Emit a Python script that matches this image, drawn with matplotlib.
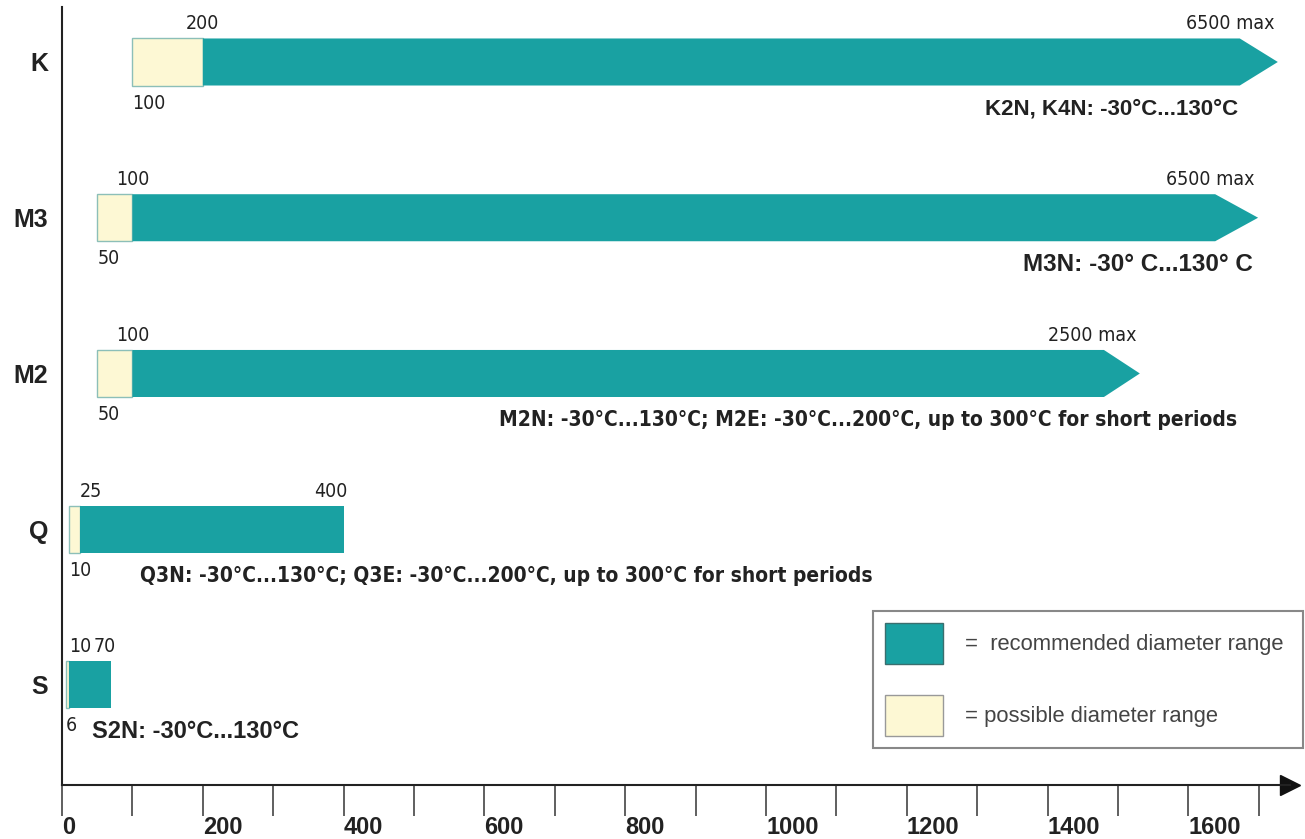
import numpy as np
import matplotlib
matplotlib.use("Agg")
import matplotlib.pyplot as plt
import matplotlib.font_manager as fm
from matplotlib.patches import Polygon, Patch

# product series, top to bottom
series = ["K", "M3", "M2", "Q", "S"]
poss_min = [100, 50, 50, 10, 6]        # possible diameter range start
rec_min = [200, 100, 100, 25, 10]      # recommended range start
rec_max = [None, None, None, 400, 70]  # recommended range end (None = open arrow)
arrow_body = [1673, 1638, 1480, None, None]   # where the open bars reach the arrow head
arrow_tip = [1727, 1699, 1531, None, None]
max_text = ["6500 max", "6500 max", "2500 max", None, None]
temps = ["K2N, K4N: -30°C...130°C",
         "M3N: -30° C...130° C",
         "M2N: -30°C...130°C; M2E: -30°C...200°C, up to 300°C for short periods",
         "Q3N: -30°C...130°C; Q3E: -30°C...200°C, up to 300°C for short periods",
         "S2N: -30°C...130°C"]

# layout of the temperature notes (x in axis units, alignment, narrow font?, size)
temp_x = [1670, 1692, 1669, 111, 43]
temp_ha = ["right", "right", "right", "left", "left"]
temp_narrow = [False, False, True, True, False]
temp_size = [16, 17.5, 15, 15, 17]

teal = "#19a1a2"
cream = "#fdf8d4"
arial = ["Liberation Sans", "DejaVu Sans"]


def have(fam, stretch="normal"):
    try:
        p = fm.findfont(fm.FontProperties(family=fam, stretch=stretch), fallback_to_default=False)
    except ValueError:
        return False
    if stretch != "normal":
        return "ondensed" in p
    return True


# condensed face for the numbers and the long notes
if have("DejaVu Sans", "condensed"):
    narrow = dict(family=["DejaVu Sans"], fontstretch="condensed")
    scale = 1.0
elif have("Liberation Sans Narrow"):
    narrow = dict(family=["Liberation Sans Narrow"])
    scale = 1.1
else:
    narrow = dict(family=arial)
    scale = 0.95
num_size = 14 * scale

fig = plt.figure(figsize=(13.05, 8.39), dpi=100)
ax = fig.add_axes([0, 0, 1, 1])
ax.set_xlim(-88.1, 1765.6)
ax.set_ylim(-0.989, 4.398)

ypos = np.arange(len(series))[::-1]
h = 0.302
px = 1 / 155.75  # one pixel in y units
ink = "#222222"

for i, name in enumerate(series):
    y = ypos[i]
    # possible range (cream)
    ax.barh(y, rec_min[i] - poss_min[i], left=poss_min[i], height=h,
            color=cream, edgecolor="#8cbfb8", linewidth=1)
    if rec_max[i] is None:
        pts = [(rec_min[i], y - h / 2), (arrow_body[i], y - h / 2), (arrow_tip[i], y),
               (arrow_body[i], y + h / 2), (rec_min[i], y + h / 2)]
        ax.add_patch(Polygon(pts, closed=True, facecolor=teal, edgecolor="none"))
        ax.text(arrow_tip[i] - 5, y + h / 2 + 5 * px, max_text[i], ha="right", va="bottom",
                color=ink, fontsize=num_size, **narrow)
    else:
        ax.barh(y, rec_max[i] - rec_min[i], left=rec_min[i], height=h,
                color=teal, edgecolor="none")
        ax.text(rec_max[i] + 6, y + h / 2 + 5 * px, str(rec_max[i]), ha="right", va="bottom",
                color=ink, fontsize=num_size, **narrow)
    # value labels
    ha = "center" if rec_min[i] >= 100 else "left"
    ax.text(rec_min[i], y + h / 2 + 5 * px, str(rec_min[i]), ha=ha, va="bottom",
            color=ink, fontsize=num_size, **narrow)
    ax.text(poss_min[i], y - h / 2 - 8 * px, str(poss_min[i]), ha="left", va="top",
            color=ink, fontsize=num_size, **narrow)
    # temperature note
    if temp_narrow[i]:
        fnt, size = narrow, temp_size[i] * scale
    else:
        fnt, size = dict(family=arial), temp_size[i]
    ax.text(temp_x[i], y - h / 2 - 23 * px, temps[i], ha=temp_ha[i], va="center",
            fontweight="bold", color=ink, fontsize=size, **fnt)

# axes lines
base = -0.642
for s in ["top", "right"]:
    ax.spines[s].set_visible(False)
ax.spines["left"].set_position(("data", 0))
ax.spines["bottom"].set_position(("data", base))
ax.spines["left"].set_bounds(base, 4.35)
ax.spines["bottom"].set_bounds(0, 1745)
for s in ["left", "bottom"]:
    ax.spines[s].set_linewidth(1.5)
    ax.spines[s].set_color("#222222")
ax.plot([1745], [base], marker=">", markersize=14, color="#111111", clip_on=False)

ax.set_yticks(ypos)
ax.set_yticklabels(series, fontsize=18, fontweight="bold", family=arial, color="#222222")
ax.tick_params(axis="y", length=0, pad=10)

ax.set_xticks(np.arange(0, 1601, 200))
ax.set_xticks(np.arange(100, 1701, 200), minor=True)
ax.set_xticklabels([str(v) for v in range(0, 1601, 200)], fontsize=17,
                   fontweight="bold", family=arial, color="#222222")
for lab in ax.get_xticklabels():
    lab.set_horizontalalignment("left")
ax.tick_params(axis="x", which="both", direction="out", length=22, width=1.2,
               color="#444444", pad=0)

# legend
handles = [Patch(facecolor=teal, edgecolor="#3a6e6e"),
           Patch(facecolor=cream, edgecolor="#999999")]
labels = ["=  recommended diameter range", "= possible diameter range"]
leg = ax.legend(handles, labels, loc="upper left", mode="expand",
                bbox_to_anchor=(873 / 1305, 1 - 612 / 839, 430 / 1305, 0.001),
                bbox_transform=fig.transFigure,
                borderaxespad=0, fancybox=False, prop={"family": arial, "size": 15.8},
                handlelength=2.65, handleheight=2.45, labelspacing=1.45,
                handletextpad=1.0, borderpad=0.55, framealpha=1)
leg.get_frame().set_edgecolor("#888888")
leg.get_frame().set_linewidth(1.5)
for t in leg.get_texts():
    t.set_color("#444444")

fig.savefig("out.png", dpi=100)
